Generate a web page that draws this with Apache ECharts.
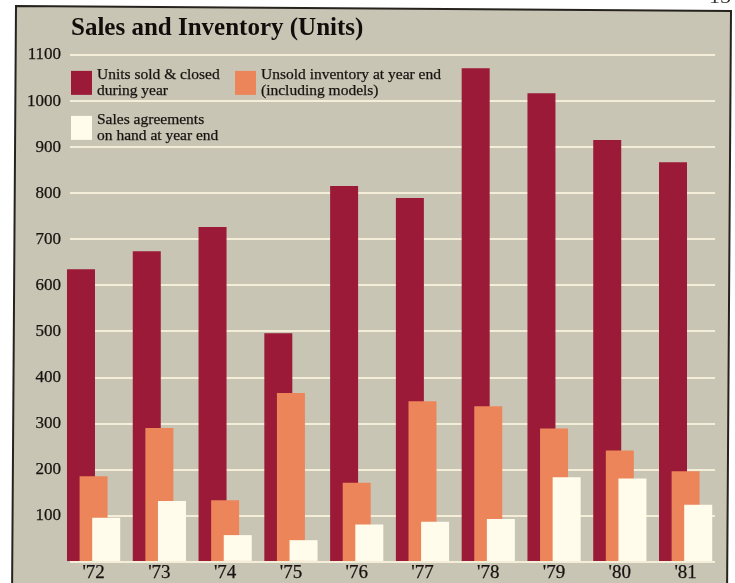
<!DOCTYPE html>
<html>
<head>
<meta charset="utf-8">
<title>Sales and Inventory (Units)</title>
<script src="https://cdn.jsdelivr.net/npm/echarts@6/dist/echarts.min.js"></script>
<style>
  html, body { margin: 0; padding: 0; background: #ffffff; }
  #chart { width: 735px; height: 583px; }
</style>
</head>
<body>
<div id="chart"></div>
<script>
// Fiscal years shown along the bottom
const years = ["'72", "'73", "'74", "'75", "'76", "'77", "'78", "'79", "'80", "'81"];

// Units sold & closed during year
const unitsSold = [634, 673, 726, 495, 815, 789, 1071, 1017, 915, 867];
// Unsold inventory at year end (including models)
const unsoldInventory = [184, 289, 132, 365, 170, 347, 336, 288, 240, 195];
// Sales agreements on hand at year end
const salesAgreements = [94, 130, 56, 45, 79, 85, 91, 182, 179, 122];

// Value axis ticks
const yTicks = [100, 200, 300, 400, 500, 600, 700, 800, 900, 1000, 1100];

const SERIES_SOLD = 'Units sold & closed during year';
const SERIES_UNSOLD = 'Unsold inventory at year end (including models)';
const SERIES_AGREE = 'Sales agreements on hand at year end';

const legendLines = {};
legendLines[SERIES_SOLD] = 'Units sold & closed\nduring year';
legendLines[SERIES_UNSOLD] = 'Unsold inventory at year end\n(including models)';
legendLines[SERIES_AGREE] = 'Sales agreements\non hand at year end';

const SERIF = '"Liberation Serif", "DejaVu Serif", serif';
const INK = '#17120f';
const PANEL = '#c9c5b5';
const RULE = '#f4eed8';
const RED = '#9b1a37';
const ORANGE = '#ed855b';
const CREAM = '#fffcec';

const chart = echarts.init(document.getElementById('chart'), null, { renderer: 'canvas' });

// slightly heavier text weight for the printed-type look
const inkText = {
  fontFamily: SERIF,
  color: INK,
  textBorderColor: INK,
  textBorderWidth: 0.25
};

function legendFor(name, left, top) {
  return {
    data: [name],
    left: left,
    top: top,
    padding: 0,
    orient: 'horizontal',
    icon: 'rect',
    itemWidth: 21,
    itemHeight: 24,
    itemStyle: { borderWidth: 0 },
    selectedMode: false,
    formatter: function (n) { return legendLines[n]; },
    textStyle: Object.assign({ fontSize: 15.5, lineHeight: 15.5 }, inkText)
  };
}

const barCommon = {
  type: 'bar',
  xAxisIndex: 1,
  yAxisIndex: 1,
  barWidth: 28,
  barGap: '-55%',
  silent: true
};

chart.setOption({
  backgroundColor: '#ffffff',
  animation: false,
  title: {
    text: 'Sales and Inventory (Units)',
    left: 71,
    top: 16,
    padding: 0,
    textStyle: {
      fontFamily: SERIF,
      fontSize: 25,
      fontWeight: 'bold',
      color: '#110d0b'
    }
  },
  graphic: [
    {
      type: 'polygon',
      z: -10,
      shape: { points: [[16, 6], [731, 11], [727, 600], [12, 600]] },
      style: { fill: PANEL, stroke: '#26231f', lineWidth: 2 }
    },
    {
      type: 'text',
      left: 709,
      top: -14,
      style: { text: '15', font: '22px ' + SERIF, fill: '#3a3633' }
    }
  ],
  legend: [
    legendFor(SERIES_SOLD, 71, 67),
    legendFor(SERIES_UNSOLD, 235, 67),
    legendFor(SERIES_AGREE, 71, 112)
  ],
  grid: [
    // rule lines and value labels
    { left: 70, right: 20, top: 55, bottom: 21.6 },
    // bars
    { left: 60.7, right: 16.5, top: 55, bottom: 21.6 }
  ],
  xAxis: [
    { type: 'category', gridIndex: 0, data: years, show: false },
    {
      type: 'category',
      gridIndex: 1,
      data: years,
      axisLine: { show: false },
      axisTick: { show: false },
      splitLine: { show: false },
      axisLabel: Object.assign({ margin: 3, fontSize: 19 }, inkText)
    }
  ],
  yAxis: [
    {
      type: 'value',
      gridIndex: 0,
      min: 0,
      max: 1100,
      interval: 100,
      axisLine: { show: false },
      axisTick: { show: false },
      splitLine: { show: true, lineStyle: { color: RULE, width: 2 } },
      axisLabel: Object.assign({
        margin: 9,
        fontSize: 17,
        formatter: function (v) { return yTicks.indexOf(v) >= 0 ? String(v) : ''; }
      }, inkText)
    },
    {
      type: 'value',
      gridIndex: 1,
      min: 0,
      max: 1100,
      interval: 100,
      show: false,
      splitLine: { show: false }
    }
  ],
  series: [
    Object.assign({}, barCommon, {
      name: SERIES_SOLD,
      data: unitsSold,
      itemStyle: { color: RED }
    }),
    Object.assign({}, barCommon, {
      name: SERIES_UNSOLD,
      data: unsoldInventory,
      itemStyle: { color: ORANGE }
    }),
    Object.assign({}, barCommon, {
      name: SERIES_AGREE,
      data: salesAgreements,
      itemStyle: { color: CREAM }
    })
  ]
});
</script>
</body>
</html>
